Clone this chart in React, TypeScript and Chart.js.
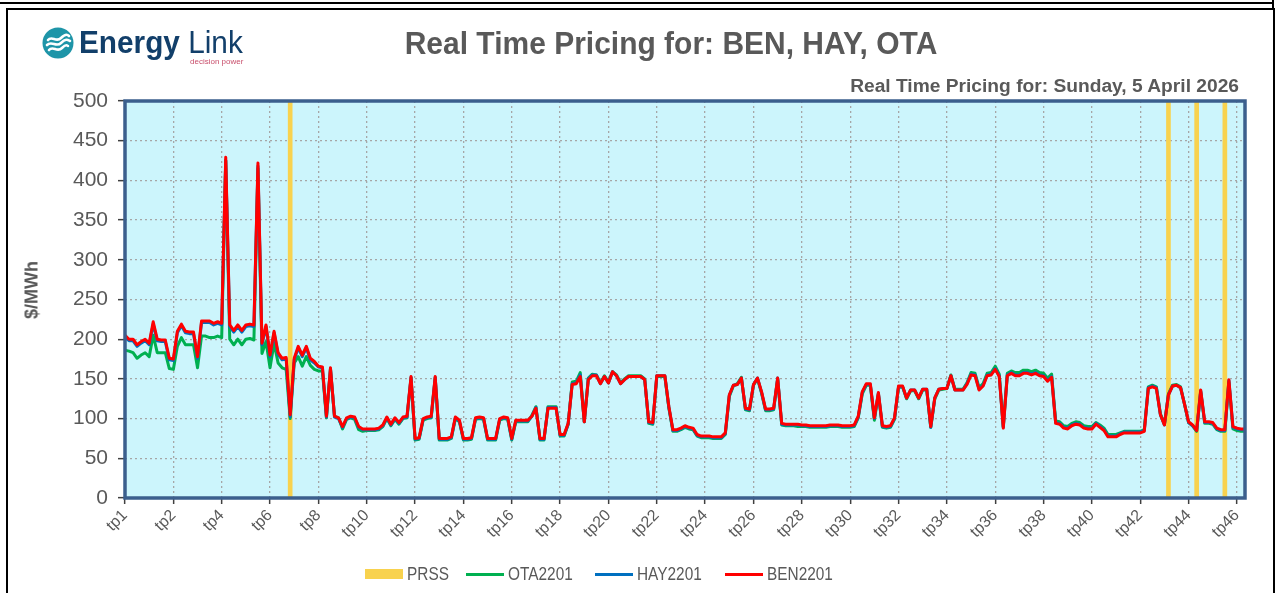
import React, { useEffect, useRef } from 'react';
import { Chart, registerables } from 'chart.js';

Chart.register(...registerables);

// ---------- data ----------
const TICK_LABELS = [
  'tp1', 'tp2', 'tp4', 'tp6', 'tp8', 'tp10', 'tp12', 'tp14', 'tp16', 'tp18', 'tp20', 'tp22',
  'tp24', 'tp26', 'tp28', 'tp30', 'tp32', 'tp34', 'tp36', 'tp38', 'tp40', 'tp42', 'tp44', 'tp46',
];
const INTERVALS_PER_LABEL = 12;

const BEN2201 = [
  205, 200, 200, 193, 197, 200, 195, 222, 200, 199,
  199, 176, 175, 210, 219, 210, 209, 209, 178, 223,
  223, 223, 220, 222, 220, 429, 218, 211, 218, 211,
  218, 219, 218, 422, 195, 218, 180, 210, 183, 176,
  177, 105, 176, 191, 180, 191, 176, 172, 166, 165,
  103, 164, 103, 101, 90, 101, 103, 102, 90, 87,
  87, 87, 87, 88, 92, 102, 93, 101, 95, 102,
  103, 153, 75, 76, 100, 102, 103, 153, 75, 75,
  75, 77, 102, 98, 75, 75, 76, 101, 102, 101,
  75, 75, 75, 100, 102, 101, 75, 98, 98, 98,
  98, 103, 113, 75, 75, 113, 113, 113, 80, 80,
  94, 143, 144, 153, 96, 149, 154, 154, 144, 153,
  145, 159, 154, 144, 149, 153, 153, 153, 153, 149,
  96, 95, 154, 154, 154, 115, 86, 86, 88, 91,
  89, 88, 80, 78, 78, 78, 77, 77, 77, 82,
  130, 142, 143, 151, 113, 112, 143, 151, 134, 112,
  112, 113, 151, 94, 93, 93, 93, 93, 92, 92,
  91, 91, 91, 91, 91, 92, 92, 92, 91, 91,
  91, 92, 103, 134, 144, 144, 101, 133, 91, 90,
  91, 101, 141, 141, 126, 136, 136, 126, 137, 137,
  90, 126, 137, 138, 138, 154, 136, 136, 136, 143,
  155, 154, 136, 141, 154, 155, 162, 153, 88, 154,
  157, 154, 154, 157, 157, 155, 157, 154, 153, 147,
  152, 94, 93, 88, 87, 91, 93, 92, 88, 87,
  87, 93, 89, 85, 77, 77, 77, 80, 82, 82,
  82, 82, 82, 84, 138, 140, 138, 105, 92, 130,
  141, 142, 139, 118, 96, 92, 85, 136, 96, 96,
  95, 88, 86, 86, 149, 90, 88, 87, 87,
];

const HAY2201 = [
  203, 198, 198, 191, 195, 198, 193, 219, 198, 197,
  197, 174, 173, 208, 217, 208, 207, 207, 176, 221,
  221, 221, 218, 220, 218, 425, 216, 209, 216, 209,
  216, 217, 216, 418, 193, 216, 178, 208, 181, 174,
  175, 102, 174, 189, 178, 189, 174, 170, 165, 164,
  102, 163, 102, 100, 89, 100, 102, 101, 89, 86,
  86, 86, 86, 87, 91, 101, 92, 100, 94, 101,
  102, 152, 74, 75, 99, 101, 102, 152, 74, 74,
  74, 76, 101, 97, 74, 74, 75, 100, 101, 100,
  74, 74, 74, 99, 101, 100, 74, 97, 97, 97,
  97, 103, 114, 74, 74, 114, 114, 114, 79, 79,
  93, 144, 145, 155, 96, 150, 155, 155, 144, 153,
  145, 159, 154, 144, 149, 153, 153, 153, 153, 149,
  95, 94, 154, 154, 154, 114, 85, 85, 87, 90,
  88, 87, 79, 77, 77, 77, 76, 76, 76, 81,
  129, 142, 143, 151, 112, 111, 143, 151, 133, 111,
  111, 112, 151, 93, 92, 92, 92, 92, 91, 91,
  90, 90, 90, 90, 90, 91, 91, 91, 90, 90,
  90, 91, 102, 133, 143, 143, 100, 132, 90, 89,
  90, 100, 140, 140, 126, 136, 136, 126, 137, 137,
  89, 126, 137, 138, 138, 154, 136, 136, 136, 144,
  156, 155, 137, 142, 155, 156, 163, 154, 89, 155,
  158, 155, 155, 158, 158, 156, 158, 155, 154, 148,
  153, 95, 94, 89, 88, 92, 94, 93, 89, 88,
  88, 94, 90, 86, 78, 78, 78, 81, 83, 83,
  83, 83, 83, 85, 139, 141, 139, 105, 92, 130,
  141, 142, 139, 118, 95, 91, 85, 135, 95, 95,
  94, 87, 85, 85, 148, 89, 87, 86, 86,
];

const OTA2201 = [
  186, 185, 183, 176, 180, 183, 178, 205, 183, 183,
  183, 163, 162, 191, 202, 193, 193, 193, 164, 204,
  204, 202, 202, 204, 202, 425, 200, 193, 200, 193,
  200, 201, 199, 415, 182, 197, 164, 195, 170, 164,
  162, 100, 170, 178, 166, 178, 167, 162, 160, 160,
  101, 162, 103, 101, 87, 99, 101, 99, 86, 84,
  85, 85, 85, 86, 90, 100, 91, 99, 93, 100,
  101, 151, 73, 74, 98, 100, 101, 151, 73, 73,
  73, 75, 100, 96, 73, 73, 74, 99, 100, 99,
  73, 73, 73, 98, 100, 99, 73, 96, 96, 96,
  96, 104, 115, 73, 73, 115, 115, 115, 78, 78,
  93, 146, 147, 158, 96, 151, 156, 155, 145, 154,
  146, 159, 155, 145, 150, 154, 154, 154, 154, 150,
  94, 93, 153, 153, 153, 113, 84, 84, 86, 89,
  87, 86, 78, 76, 76, 76, 75, 75, 75, 80,
  128, 141, 144, 152, 111, 110, 142, 150, 132, 110,
  110, 111, 150, 92, 91, 91, 91, 90, 90, 90,
  89, 89, 89, 89, 89, 90, 90, 90, 89, 89,
  89, 90, 101, 131, 142, 142, 98, 131, 89, 88,
  89, 99, 139, 140, 125, 135, 135, 125, 136, 136,
  89, 125, 136, 137, 138, 155, 137, 137, 137, 145,
  158, 157, 139, 144, 157, 158, 166, 156, 90, 157,
  160, 158, 158, 161, 161, 159, 161, 158, 157, 151,
  156, 97, 96, 91, 90, 94, 96, 95, 91, 90,
  90, 95, 92, 88, 80, 80, 80, 82, 84, 84,
  84, 84, 84, 86, 140, 142, 140, 106, 93, 131,
  142, 143, 140, 118, 95, 91, 84, 134, 94, 94,
  93, 86, 84, 84, 146, 87, 85, 84, 84,
];

// intervals flagged by PRSS
const PRSS_INTERVALS = [41, 259, 266, 273];
const PRSS_LEVEL = 500;

const Y_MIN = 0;
const Y_MAX = 500;
const Y_STEP = 50;

// ---------- styles ----------
const FONT = "'Liberation Sans', Arial, sans-serif";
const GREY = '#595959';
const C_PRSS = '#F8D24E';
const C_OTA = '#00B050';
const C_HAY = '#0070C0';
const C_BEN = '#FF0000';

const plotFrame = {
  id: 'plotFrame',
  beforeDraw(chart: any) {
    const { ctx, chartArea: a } = chart;
    ctx.save();
    ctx.fillStyle = '#CCF5FC';
    ctx.fillRect(a.left, a.top, a.right - a.left, a.bottom - a.top);
    ctx.restore();
  },
  afterDraw(chart: any) {
    const { ctx, chartArea: a } = chart;
    ctx.save();
    ctx.strokeStyle = '#3B5F8D';
    ctx.lineWidth = 3.5;
    ctx.strokeRect(a.left, a.top, a.right - a.left, a.bottom - a.top);
    ctx.restore();
  },
};

function PriceChart() {
  const ref = useRef<HTMLCanvasElement | null>(null);
  useEffect(() => {
    if (!ref.current) return;
    const toXY = (arr: number[]) => arr.map((y, i) => ({ x: i, y }));
    const lineStyle = (color: string, order: number) => ({
      borderColor: color,
      backgroundColor: color,
      borderWidth: 3,
      pointRadius: 0,
      tension: 0,
      borderJoinStyle: 'round' as const,
      order,
    });
    const chart = new Chart(ref.current, {
      type: 'line',
      data: {
        datasets: [
          {
            type: 'bar',
            label: 'PRSS',
            data: PRSS_INTERVALS.map((i) => ({ x: i, y: PRSS_LEVEL })),
            backgroundColor: C_PRSS,
            borderWidth: 0,
            barThickness: 4,
            order: 4,
          } as any,
          { label: 'OTA2201', data: toXY(OTA2201), ...lineStyle(C_OTA, 3) },
          { label: 'HAY2201', data: toXY(HAY2201), ...lineStyle(C_HAY, 2) },
          { label: 'BEN2201', data: toXY(BEN2201), ...lineStyle(C_BEN, 1) },
        ],
      },
      options: {
        animation: false,
        responsive: false,
        maintainAspectRatio: false,
        devicePixelRatio: 1,
        layout: { padding: { top: 101, right: 36, left: 0, bottom: 0 } },
        plugins: {
          legend: { display: false },
          tooltip: { enabled: false },
        },
        scales: {
          x: {
            type: 'linear',
            min: 0,
            max: BEN2201.length - 1,
            offset: false,
            afterFit: (s: any) => {
              s.height = 95;
            },
            ticks: {
              stepSize: INTERVALS_PER_LABEL,
              includeBounds: false,
              autoSkip: false,
              maxRotation: 45,
              minRotation: 45,
              padding: 2,
              color: GREY,
              font: { family: FONT, size: 16 },
              callback: (v: any) => {
                const k = Math.round(Number(v) / INTERVALS_PER_LABEL);
                return TICK_LABELS[k] ?? '';
              },
            },
            grid: {
              offset: false,
              color: '#A6A6A6',
              lineWidth: 1.3,
              drawTicks: true,
              tickLength: 6,
              tickColor: '#404040',
              tickWidth: 1.5,
              tickBorderDash: [],
            } as any,
            border: { display: false, dash: [2, 3] },
          },
          y: {
            min: Y_MIN,
            max: Y_MAX,
            afterFit: (s: any) => {
              s.width = 125;
            },
            ticks: {
              stepSize: Y_STEP,
              padding: 10,
              color: GREY,
              font: { family: FONT, size: 21 },
            },
            grid: {
              color: '#A6A6A6',
              lineWidth: 1.3,
              drawTicks: true,
              tickLength: 7,
              tickColor: '#404040',
              tickWidth: 1.5,
              tickBorderDash: [],
            } as any,
            border: { display: false, dash: [2, 3] },
          },
        },
      },
      plugins: [plotFrame],
    });
    return () => chart.destroy();
  }, []);
  return (
    <canvas
      ref={ref}
      width={1281}
      height={593}
      style={{ position: 'absolute', left: 0, top: 0, width: 1281, height: 593 }}
    />
  );
}

function LegendItem({
  label,
  color,
  box,
  left,
}: {
  label: string;
  color: string;
  box?: boolean;
  left: number;
}) {
  return (
    <>
      <div
        style={{
          position: 'absolute',
          left,
          top: box ? 569 : 573,
          width: 38,
          height: box ? 10 : 3,
          background: color,
        }}
      />
      <div
        style={{
          position: 'absolute',
          left: left + 42,
          top: 563,
          fontFamily: FONT,
          fontSize: 17.5,
          lineHeight: '22px',
          color: GREY,
          whiteSpace: 'nowrap',
          transform: 'scaleX(0.88)',
          transformOrigin: 'left center',
        }}
      >
        {label}
      </div>
    </>
  );
}

export default function App() {
  return (
    <div
      style={{
        position: 'absolute',
        left: 0,
        top: 0,
        width: 1281,
        height: 593,
        overflow: 'hidden',
        background: '#fff',
      }}
    >
      {/* frames */}
      <div style={{ position: 'absolute', left: 0, top: 2, width: 1274, height: 0, borderTop: '2px solid #000' }} />
      <div style={{ position: 'absolute', left: 1272, top: 0, width: 0, height: 9, borderLeft: '2px solid #000' }} />
      <div
        style={{
          position: 'absolute',
          left: 6,
          top: 8,
          width: 1265,
          height: 600,
          border: '2px solid #000',
        }}
      />

      <PriceChart />

      {/* logo */}
      <svg style={{ position: 'absolute', left: 42, top: 27 }} width={32} height={32} viewBox="0 0 32 32">
        <circle cx={16} cy={16} r={15.5} fill="#1E95A8" />
        <path d="M6 13 C10 8, 14 16, 19 11 S26 8, 27 9" stroke="#fff" strokeWidth={2.6} fill="none" strokeLinecap="round" />
        <path d="M5 18 C10 13, 14 21, 19 16 S26 13, 28 14" stroke="#fff" strokeWidth={2.6} fill="none" strokeLinecap="round" />
        <path d="M7 23 C11 18, 15 26, 20 21 S25 19, 26 19" stroke="#fff" strokeWidth={2.6} fill="none" strokeLinecap="round" />
      </svg>
      <div
        style={{
          position: 'absolute',
          left: 79,
          top: 25,
          fontFamily: FONT,
          fontSize: 31,
          color: '#123F6A',
          whiteSpace: 'nowrap',
          lineHeight: '36px',
          transform: 'scaleX(0.96)',
          transformOrigin: 'left center',
        }}
      >
        <span style={{ fontWeight: 700 }}>Energy</span> <span>Link</span>
      </div>
      <div
        style={{
          position: 'absolute',
          left: 190,
          top: 57,
          fontFamily: FONT,
          fontSize: 8,
          color: '#C84E6B',
          whiteSpace: 'nowrap',
        }}
      >
        decision power
      </div>

      {/* titles */}
      <div
        style={{
          position: 'absolute',
          left: 671,
          top: 23,
          transform: 'translateX(-50%) scaleX(0.937)',
          fontFamily: FONT,
          fontWeight: 700,
          fontSize: 32,
          color: GREY,
          whiteSpace: 'nowrap',
          lineHeight: '40px',
        }}
      >
        Real Time Pricing for: BEN, HAY, OTA
      </div>
      <div
        style={{
          position: 'absolute',
          right: 1281 - 1239,
          top: 74,
          fontFamily: FONT,
          fontWeight: 700,
          fontSize: 19.2,
          color: GREY,
          whiteSpace: 'nowrap',
          lineHeight: '24px',
        }}
      >
        Real Time Pricing for: Sunday, 5 April 2026
      </div>

      {/* y axis title */}
      <div
        style={{
          position: 'absolute',
          left: 32,
          top: 290,
          transform: 'translate(-50%, -50%) rotate(-90deg)',
          fontFamily: FONT,
          fontWeight: 700,
          fontSize: 18,
          color: GREY,
          whiteSpace: 'nowrap',
        }}
      >
        $/MWh
      </div>

      {/* legend */}
      <LegendItem label="PRSS" color={C_PRSS} box left={365} />
      <LegendItem label="OTA2201" color={C_OTA} left={466} />
      <LegendItem label="HAY2201" color={C_HAY} left={595} />
      <LegendItem label="BEN2201" color={C_BEN} left={725} />
    </div>
  );
}
